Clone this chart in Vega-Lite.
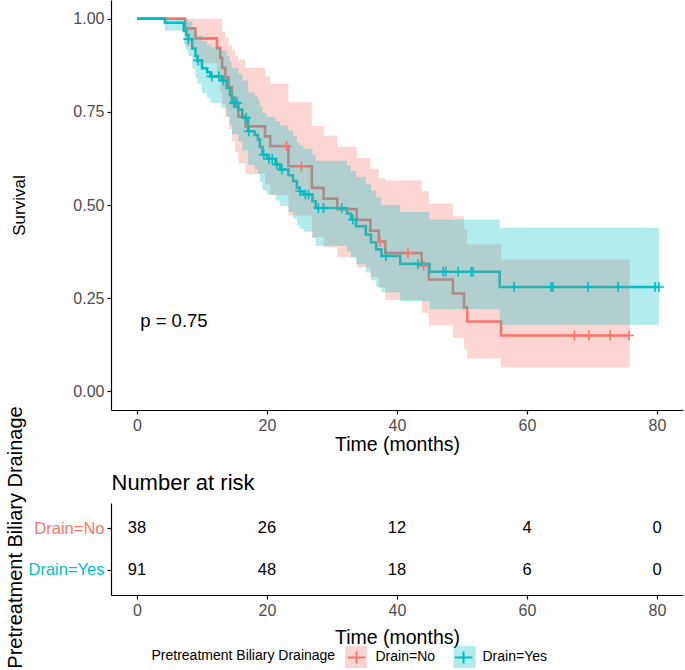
{
  "$schema": "https://vega.github.io/schema/vega-lite/v6.json",
  "padding": {"left": 5, "top": 0, "right": 5, "bottom": 0},
  "background": "white",
  "config": {
    "font": "Liberation Sans",
    "view": {"stroke": null},
    "axis": {"domainColor": "black", "tickColor": "black", "labelColor": "#4D4D4D", "titleColor": "black", "grid": false, "labelFontSize": 16, "titleFontSize": 19.5, "titleFontWeight": "normal", "tickSize": 4, "domainWidth": 1.2, "tickWidth": 1.2, "labelPadding": 3}
  },
  "datasets": {
    "km": [
      {"g": "Drain=No", "t": 0, "s": 1.0}, {"g": "Drain=No", "t": 7.4, "s": 0.974}, {"g": "Drain=No", "t": 9.0, "s": 0.947}, {"g": "Drain=No", "t": 12.3, "s": 0.921}, {"g": "Drain=No", "t": 12.8, "s": 0.895}, {"g": "Drain=No", "t": 13.1, "s": 0.868}, {"g": "Drain=No", "t": 13.6, "s": 0.842}, {"g": "Drain=No", "t": 14.1, "s": 0.816}, {"g": "Drain=No", "t": 14.6, "s": 0.789}, {"g": "Drain=No", "t": 15.1, "s": 0.763}, {"g": "Drain=No", "t": 15.6, "s": 0.737}, {"g": "Drain=No", "t": 16.7, "s": 0.711}, {"g": "Drain=No", "t": 19.7, "s": 0.684}, {"g": "Drain=No", "t": 20.5, "s": 0.658}, {"g": "Drain=No", "t": 23.3, "s": 0.604}, {"g": "Drain=No", "t": 26.9, "s": 0.546}, {"g": "Drain=No", "t": 28.7, "s": 0.517}, {"g": "Drain=No", "t": 30.8, "s": 0.489}, {"g": "Drain=No", "t": 33.8, "s": 0.46}, {"g": "Drain=No", "t": 35.9, "s": 0.431}, {"g": "Drain=No", "t": 37.2, "s": 0.402}, {"g": "Drain=No", "t": 38.2, "s": 0.371}, {"g": "Drain=No", "t": 43.8, "s": 0.337}, {"g": "Drain=No", "t": 44.9, "s": 0.3}, {"g": "Drain=No", "t": 48.6, "s": 0.2625}, {"g": "Drain=No", "t": 50.3, "s": 0.225}, {"g": "Drain=No", "t": 50.8, "s": 0.1875}, {"g": "Drain=No", "t": 56.0, "s": 0.15}, {"g": "Drain=No", "t": 75.7, "s": 0.15},
      {"g": "Drain=Yes", "t": 0, "s": 1.0}, {"g": "Drain=Yes", "t": 4.3, "s": 0.989}, {"g": "Drain=Yes", "t": 7.2, "s": 0.967}, {"g": "Drain=Yes", "t": 7.6, "s": 0.956}, {"g": "Drain=Yes", "t": 7.9, "s": 0.945}, {"g": "Drain=Yes", "t": 8.5, "s": 0.92}, {"g": "Drain=Yes", "t": 9.0, "s": 0.9}, {"g": "Drain=Yes", "t": 9.3, "s": 0.888}, {"g": "Drain=Yes", "t": 10.0, "s": 0.867}, {"g": "Drain=Yes", "t": 10.8, "s": 0.856}, {"g": "Drain=Yes", "t": 11.3, "s": 0.845}, {"g": "Drain=Yes", "t": 13.0, "s": 0.834}, {"g": "Drain=Yes", "t": 13.8, "s": 0.815}, {"g": "Drain=Yes", "t": 14.3, "s": 0.795}, {"g": "Drain=Yes", "t": 14.6, "s": 0.774}, {"g": "Drain=Yes", "t": 15.6, "s": 0.756}, {"g": "Drain=Yes", "t": 16.2, "s": 0.734}, {"g": "Drain=Yes", "t": 17.1, "s": 0.698}, {"g": "Drain=Yes", "t": 18.1, "s": 0.688}, {"g": "Drain=Yes", "t": 18.6, "s": 0.676}, {"g": "Drain=Yes", "t": 18.9, "s": 0.656}, {"g": "Drain=Yes", "t": 19.3, "s": 0.635}, {"g": "Drain=Yes", "t": 20.0, "s": 0.624}, {"g": "Drain=Yes", "t": 21.3, "s": 0.609}, {"g": "Drain=Yes", "t": 22.0, "s": 0.595}, {"g": "Drain=Yes", "t": 23.3, "s": 0.58}, {"g": "Drain=Yes", "t": 24.0, "s": 0.564}, {"g": "Drain=Yes", "t": 24.6, "s": 0.546}, {"g": "Drain=Yes", "t": 25.0, "s": 0.537}, {"g": "Drain=Yes", "t": 25.6, "s": 0.528}, {"g": "Drain=Yes", "t": 27.0, "s": 0.51}, {"g": "Drain=Yes", "t": 27.5, "s": 0.492}, {"g": "Drain=Yes", "t": 32.3, "s": 0.477}, {"g": "Drain=Yes", "t": 32.9, "s": 0.461}, {"g": "Drain=Yes", "t": 33.7, "s": 0.443}, {"g": "Drain=Yes", "t": 35.2, "s": 0.421}, {"g": "Drain=Yes", "t": 36.0, "s": 0.4}, {"g": "Drain=Yes", "t": 36.8, "s": 0.381}, {"g": "Drain=Yes", "t": 37.6, "s": 0.363}, {"g": "Drain=Yes", "t": 40.5, "s": 0.342}, {"g": "Drain=Yes", "t": 45.0, "s": 0.321}, {"g": "Drain=Yes", "t": 55.8, "s": 0.28}, {"g": "Drain=Yes", "t": 80.3, "s": 0.28}
    ],
    "ci": [
      {"g": "Drain=No", "t": 0, "lo": 1, "hi": 1}, {"g": "Drain=No", "t": 7.4, "lo": 0.924, "hi": 1}, {"g": "Drain=No", "t": 9.0, "lo": 0.88, "hi": 1}, {"g": "Drain=No", "t": 12.3, "lo": 0.839, "hi": 1}, {"g": "Drain=No", "t": 12.8, "lo": 0.804, "hi": 1}, {"g": "Drain=No", "t": 13.1, "lo": 0.77, "hi": 0.965}, {"g": "Drain=No", "t": 13.6, "lo": 0.736, "hi": 0.95}, {"g": "Drain=No", "t": 14.1, "lo": 0.704, "hi": 0.93}, {"g": "Drain=No", "t": 14.6, "lo": 0.672, "hi": 0.915}, {"g": "Drain=No", "t": 15.1, "lo": 0.642, "hi": 0.9}, {"g": "Drain=No", "t": 15.6, "lo": 0.612, "hi": 0.89}, {"g": "Drain=No", "t": 16.7, "lo": 0.583, "hi": 0.868}, {"g": "Drain=No", "t": 19.7, "lo": 0.555, "hi": 0.845}, {"g": "Drain=No", "t": 20.5, "lo": 0.527, "hi": 0.825}, {"g": "Drain=No", "t": 23.3, "lo": 0.472, "hi": 0.776}, {"g": "Drain=No", "t": 26.9, "lo": 0.414, "hi": 0.712}, {"g": "Drain=No", "t": 28.7, "lo": 0.387, "hi": 0.686}, {"g": "Drain=No", "t": 30.8, "lo": 0.36, "hi": 0.656}, {"g": "Drain=No", "t": 33.8, "lo": 0.333, "hi": 0.626}, {"g": "Drain=No", "t": 35.9, "lo": 0.307, "hi": 0.597}, {"g": "Drain=No", "t": 37.2, "lo": 0.278, "hi": 0.572}, {"g": "Drain=No", "t": 38.2, "lo": 0.245, "hi": 0.566}, {"g": "Drain=No", "t": 43.8, "lo": 0.211, "hi": 0.537}, {"g": "Drain=No", "t": 44.9, "lo": 0.177, "hi": 0.504}, {"g": "Drain=No", "t": 48.6, "lo": 0.144, "hi": 0.47}, {"g": "Drain=No", "t": 50.3, "lo": 0.114, "hi": 0.435}, {"g": "Drain=No", "t": 50.8, "lo": 0.088, "hi": 0.394}, {"g": "Drain=No", "t": 56.0, "lo": 0.064, "hi": 0.354}, {"g": "Drain=No", "t": 75.8, "lo": 0.064, "hi": 0.354},
      {"g": "Drain=Yes", "t": 0, "lo": 1, "hi": 1}, {"g": "Drain=Yes", "t": 4.3, "lo": 0.968, "hi": 1}, {"g": "Drain=Yes", "t": 7.2, "lo": 0.931, "hi": 1}, {"g": "Drain=Yes", "t": 7.6, "lo": 0.915, "hi": 1}, {"g": "Drain=Yes", "t": 7.9, "lo": 0.9, "hi": 0.992}, {"g": "Drain=Yes", "t": 8.5, "lo": 0.866, "hi": 0.977}, {"g": "Drain=Yes", "t": 9.0, "lo": 0.841, "hi": 0.964}, {"g": "Drain=Yes", "t": 9.3, "lo": 0.826, "hi": 0.955}, {"g": "Drain=Yes", "t": 10.0, "lo": 0.8, "hi": 0.939}, {"g": "Drain=Yes", "t": 10.8, "lo": 0.787, "hi": 0.931}, {"g": "Drain=Yes", "t": 11.3, "lo": 0.774, "hi": 0.923}, {"g": "Drain=Yes", "t": 13.0, "lo": 0.761, "hi": 0.914}, {"g": "Drain=Yes", "t": 13.8, "lo": 0.737, "hi": 0.9}, {"g": "Drain=Yes", "t": 14.3, "lo": 0.715, "hi": 0.884}, {"g": "Drain=Yes", "t": 14.6, "lo": 0.69, "hi": 0.867}, {"g": "Drain=Yes", "t": 15.6, "lo": 0.67, "hi": 0.852}, {"g": "Drain=Yes", "t": 16.2, "lo": 0.646, "hi": 0.834}, {"g": "Drain=Yes", "t": 17.1, "lo": 0.607, "hi": 0.802}, {"g": "Drain=Yes", "t": 18.1, "lo": 0.596, "hi": 0.794}, {"g": "Drain=Yes", "t": 18.6, "lo": 0.584, "hi": 0.783}, {"g": "Drain=Yes", "t": 18.9, "lo": 0.562, "hi": 0.766}, {"g": "Drain=Yes", "t": 19.3, "lo": 0.54, "hi": 0.747}, {"g": "Drain=Yes", "t": 20.0, "lo": 0.528, "hi": 0.737}, {"g": "Drain=Yes", "t": 21.3, "lo": 0.512, "hi": 0.725}, {"g": "Drain=Yes", "t": 22.0, "lo": 0.497, "hi": 0.713}, {"g": "Drain=Yes", "t": 23.3, "lo": 0.481, "hi": 0.699}, {"g": "Drain=Yes", "t": 24.0, "lo": 0.464, "hi": 0.685}, {"g": "Drain=Yes", "t": 24.6, "lo": 0.446, "hi": 0.668}, {"g": "Drain=Yes", "t": 25.0, "lo": 0.437, "hi": 0.66}, {"g": "Drain=Yes", "t": 25.6, "lo": 0.428, "hi": 0.651}, {"g": "Drain=Yes", "t": 27.0, "lo": 0.41, "hi": 0.635}, {"g": "Drain=Yes", "t": 27.5, "lo": 0.391, "hi": 0.619}, {"g": "Drain=Yes", "t": 32.3, "lo": 0.375, "hi": 0.606}, {"g": "Drain=Yes", "t": 32.9, "lo": 0.36, "hi": 0.591}, {"g": "Drain=Yes", "t": 33.7, "lo": 0.341, "hi": 0.576}, {"g": "Drain=Yes", "t": 35.2, "lo": 0.319, "hi": 0.556}, {"g": "Drain=Yes", "t": 36.0, "lo": 0.298, "hi": 0.538}, {"g": "Drain=Yes", "t": 36.8, "lo": 0.279, "hi": 0.52}, {"g": "Drain=Yes", "t": 37.6, "lo": 0.265, "hi": 0.5}, {"g": "Drain=Yes", "t": 40.5, "lo": 0.242, "hi": 0.481}, {"g": "Drain=Yes", "t": 45.0, "lo": 0.22, "hi": 0.461}, {"g": "Drain=Yes", "t": 55.8, "lo": 0.179, "hi": 0.439}, {"g": "Drain=Yes", "t": 80.3, "lo": 0.179, "hi": 0.439}
    ],
    "cens": [
      {"g": "Drain=No", "t": 23.0, "s": 0.658}, {"g": "Drain=No", "t": 25.3, "s": 0.604}, {"g": "Drain=No", "t": 37.4, "s": 0.402}, {"g": "Drain=No", "t": 41.7, "s": 0.371}, {"g": "Drain=No", "t": 44.1, "s": 0.337}, {"g": "Drain=No", "t": 67.3, "s": 0.15}, {"g": "Drain=No", "t": 69.5, "s": 0.15}, {"g": "Drain=No", "t": 72.8, "s": 0.15}, {"g": "Drain=No", "t": 75.7, "s": 0.15},
      {"g": "Drain=Yes", "t": 7.9, "s": 0.945}, {"g": "Drain=Yes", "t": 9.4, "s": 0.888}, {"g": "Drain=Yes", "t": 11.5, "s": 0.845}, {"g": "Drain=Yes", "t": 12.6, "s": 0.845}, {"g": "Drain=Yes", "t": 13.3, "s": 0.834}, {"g": "Drain=Yes", "t": 14.9, "s": 0.774}, {"g": "Drain=Yes", "t": 15.4, "s": 0.774}, {"g": "Drain=Yes", "t": 16.8, "s": 0.734}, {"g": "Drain=Yes", "t": 17.2, "s": 0.698}, {"g": "Drain=Yes", "t": 19.5, "s": 0.635}, {"g": "Drain=Yes", "t": 20.3, "s": 0.624}, {"g": "Drain=Yes", "t": 20.8, "s": 0.624}, {"g": "Drain=Yes", "t": 21.5, "s": 0.609}, {"g": "Drain=Yes", "t": 22.3, "s": 0.595}, {"g": "Drain=Yes", "t": 25.1, "s": 0.537}, {"g": "Drain=Yes", "t": 25.9, "s": 0.528}, {"g": "Drain=Yes", "t": 26.4, "s": 0.528}, {"g": "Drain=Yes", "t": 27.9, "s": 0.492}, {"g": "Drain=Yes", "t": 28.7, "s": 0.492}, {"g": "Drain=Yes", "t": 31.5, "s": 0.492}, {"g": "Drain=Yes", "t": 33.2, "s": 0.461}, {"g": "Drain=Yes", "t": 38.3, "s": 0.363}, {"g": "Drain=Yes", "t": 43.2, "s": 0.342}, {"g": "Drain=Yes", "t": 47.1, "s": 0.321}, {"g": "Drain=Yes", "t": 47.5, "s": 0.321}, {"g": "Drain=Yes", "t": 49.4, "s": 0.321}, {"g": "Drain=Yes", "t": 51.4, "s": 0.321}, {"g": "Drain=Yes", "t": 51.7, "s": 0.321}, {"g": "Drain=Yes", "t": 58.0, "s": 0.28}, {"g": "Drain=Yes", "t": 63.7, "s": 0.28}, {"g": "Drain=Yes", "t": 64.0, "s": 0.28}, {"g": "Drain=Yes", "t": 69.4, "s": 0.28}, {"g": "Drain=Yes", "t": 74.0, "s": 0.28}, {"g": "Drain=Yes", "t": 79.7, "s": 0.28}, {"g": "Drain=Yes", "t": 80.3, "s": 0.28}
    ],
    "risk": [
      {"g": "Drain=No", "t": 0, "n": 38}, {"g": "Drain=No", "t": 20, "n": 26}, {"g": "Drain=No", "t": 40, "n": 12}, {"g": "Drain=No", "t": 60, "n": 4}, {"g": "Drain=No", "t": 80, "n": 0},
      {"g": "Drain=Yes", "t": 0, "n": 91}, {"g": "Drain=Yes", "t": 20, "n": 48}, {"g": "Drain=Yes", "t": 40, "n": 18}, {"g": "Drain=Yes", "t": 60, "n": 6}, {"g": "Drain=Yes", "t": 80, "n": 0}
    ]
  },
  "bounds": "flush",
  "spacing": 93,
  "vconcat": [
    {
      "width": 572,
      "height": 410,
      "layer": [
        {
          "data": {"name": "km"},
          "mark": {"type": "line", "interpolate": "step-after", "strokeWidth": 2.6},
          "encoding": {
            "x": {"field": "t", "type": "quantitative", "scale": {"domain": [-4, 84], "nice": false, "zero": false}, "axis": {"values": [0, 20, 40, 60, 80], "title": "Time (months)", "titlePadding": 2}},
            "y": {"field": "s", "type": "quantitative", "scale": {"domain": [-0.05, 1.05], "nice": false, "zero": false}, "axis": {"values": [0, 0.25, 0.5, 0.75, 1], "format": ".2f", "title": "Survival", "titleFontSize": 17, "titlePadding": 44}},
            "stroke": {"field": "g", "type": "nominal", "scale": {"range": ["#F8766D", "#00BFC4"]}, "legend": {"orient": "none", "legendX": 40.5, "legendY": 645, "direction": "horizontal", "title": "Pretreatment Biliary Drainage", "titleLimit": 400, "titleOrient": "left", "titleFontSize": 14, "titleFontWeight": "normal", "titleColor": "black", "titlePadding": 9, "labelFontSize": 14, "labelColor": "black", "labelOffset": 7, "columnPadding": 15, "symbolType": "M-0.8,0H0.8M0,-0.55V0.55", "symbolSize": 484, "symbolStrokeWidth": 2, "symbolFillColor": "transparent", "padding": 0}}
          }
        },
        {
          "data": {"name": "ci"},
          "mark": {"type": "area", "interpolate": "step-after", "opacity": 0.3},
          "encoding": {
            "x": {"field": "t", "type": "quantitative"},
            "y": {"field": "lo", "type": "quantitative"},
            "y2": {"field": "hi"},
            "fill": {"field": "g", "type": "nominal", "scale": {"range": ["#F8766D", "#00BFC4"]}, "legend": {"orient": "none", "legendX": 233.1, "legendY": 645, "direction": "horizontal", "title": null, "labelExpr": "''", "labelFontSize": 14, "labelOffset": 10, "columnPadding": 71.5, "symbolType": "square", "symbolSize": 484, "symbolStrokeWidth": 2, "symbolStrokeColor": "transparent", "padding": 0}}
          }
        },
        {
          "data": {"name": "cens"},
          "mark": {"type": "point", "shape": "M-1,0H1M0,-1V1", "filled": false, "size": 100, "strokeWidth": 1.6, "opacity": 1},
          "encoding": {
            "x": {"field": "t", "type": "quantitative"},
            "y": {"field": "s", "type": "quantitative"},
            "stroke": {"field": "g", "type": "nominal"}
          }
        },
        {
          "data": {"values": [{"t": 0.5, "s": 0.188, "label": "p = 0.75"}]},
          "mark": {"type": "text", "align": "left", "baseline": "middle", "fontSize": 18.5, "color": "black"},
          "encoding": {
            "x": {"field": "t", "type": "quantitative"},
            "y": {"field": "s", "type": "quantitative"},
            "text": {"field": "label"}
          }
        }
      ]
    },
    {
      "width": 572,
      "height": 92,
      "data": {"name": "risk"},
      "layer": [
        {
          "mark": {"type": "text", "fontSize": 16.5, "color": "black"},
          "encoding": {
            "x": {"field": "t", "type": "quantitative", "scale": {"domain": [-4, 84], "nice": false, "zero": false}, "axis": {"orient": "bottom", "values": [0, 20, 40, 60, 80], "title": "Time (months)", "titlePadding": 10}},
            "y": {"field": "g", "type": "nominal", "sort": ["Drain=No", "Drain=Yes"], "scale": {"type": "point", "padding": 0.6}, "axis": {"title": "Pretreatment Biliary Drainage", "titleFontSize": 20, "titleY": 34, "titlePadding": 3, "labelFontSize": 16.5, "labelColor": {"condition": {"test": "datum.value === 'Drain=No'", "value": "#F8766D"}, "value": "#00BFC4"}}},
            "text": {"field": "n", "type": "quantitative"}
          }
        },
        {
          "mark": {"type": "point", "opacity": 0},
          "encoding": {
            "x": {"field": "t", "type": "quantitative", "axis": {"orient": "top", "title": "Number at risk", "titleFontSize": 22, "titleAnchor": "start", "titleAlign": "left", "titlePadding": 9, "labels": false, "ticks": false, "domain": false}},
            "y": {"field": "g", "type": "nominal", "sort": ["Drain=No", "Drain=Yes"]}
          }
        }
      ]
    }
  ]
}
